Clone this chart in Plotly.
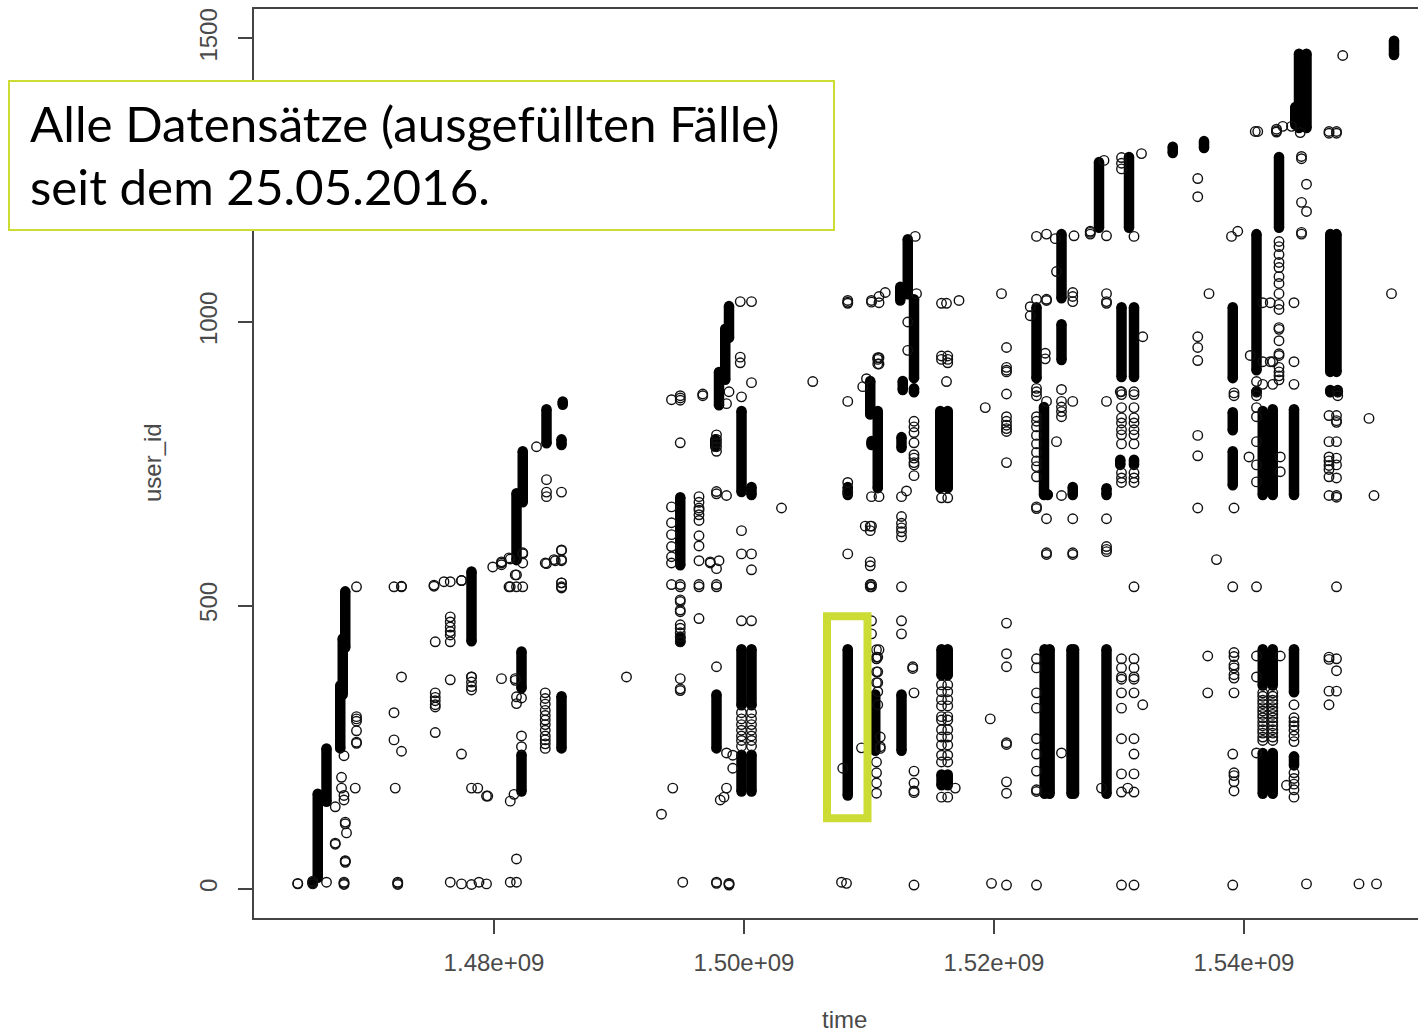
import plotly.graph_objects as go

# ---- data: time in millions of seconds, user_id ----
RING_TIMES = [
 1464.3, 1465.5, 1466.6, 1468.0, 1472.3, 1476.5, 1477.4, 1478.2, 1478.8, 1479.4, 1481.3, 1481.8,
 1469.0, 1472.0, 1472.6, 1475.2, 1476.0, 1477.4, 1476.5, 1475.3, 1478.2, 1480.6, 1481.7, 1472.1,
 1467.8, 1468.9, 1478.7, 1479.5, 1481.6, 1467.3, 1468.1, 1468.2, 1482.3, 1484.1, 1484.9, 1485.4,
 1482.2, 1490.6, 1483.4, 1484.2, 1484.8, 1481.2, 1479.9,
 1494.9, 1494.2, 1496.4, 1497.8, 1497.3, 1498.0, 1496.7, 1498.6, 1499.7, 1500.6, 1499.8, 1498.8,
 1503.0, 1505.5, 1493.4, 1494.3, 1495.1, 1499.1, 1498.4, 1498.1,
 1508.3, 1510.2, 1510.8, 1511.3, 1513.8, 1513.7, 1513.1, 1515.8, 1516.2, 1517.2, 1520.6, 1510.7,
 1516.3, 1521.0, 1519.3, 1509.8, 1509.5, 1510.1, 1512.6, 1513.0, 1513.6, 1509.7, 1513.5, 1509.4,
 1507.9, 1507.8, 1508.2, 1510.6, 1510.9, 1516.9, 1519.7, 1519.8,
 1547.9, 1543.8, 1543.1, 1542.6, 1541.1, 1540.9, 1544.5, 1546.8, 1547.4, 1544.6, 1545.0, 1536.3,
 1531.8, 1530.2, 1531.2, 1528.8, 1527.7, 1529.0, 1523.4, 1524.2, 1524.9, 1526.4, 1525.0, 1526.3,
 1537.2, 1551.8, 1522.9, 1542.8, 1542.1, 1541.5, 1544.0, 1539.0, 1539.5, 1531.9, 1540.5, 1542.3,
 1541.0, 1547.5, 1524.1, 1525.4, 1530.7, 1528.6, 1530.1, 1537.8, 1539.2, 1539.1, 1540.4, 1542.9,
 1550.0, 1550.4, 1537.1, 1543.4, 1549.2, 1550.6, 1521.0,
]
RING_USERS = [
 [9, 10], [9, 12, 14], [12], [12, 10, 8, 157, 165, 235], [10, 8, 12], [12, 480, 471, 462, 454, 448, 436, 369], [9, 544, 238], [8, 374, 365, 357, 351, 178], [12], [9, 164], [12, 155, 582, 533], [12, 53, 339, 327, 533, 554],
 [533, 304, 300, 296, 279, 259, 257], [533, 311, 263], [534, 533, 374, 243], [536, 534], [542], [544], [542], [436, 346, 338, 332, 325, 321, 276], [374], [575, 572, 577, 371], [371, 368, 554], [178],
 [197, 178], [178], [178], [164], [167], [145, 81, 79], [118, 115, 49, 47, 50], [99], [575, 591, 533, 593], [575, 346, 336, 326, 315, 306, 298, 290, 280, 270, 263, 256, 248], [579], [579, 597, 533, 540, 598, 581, 540, 531, 700],
 [337, 270, 251], [374], [780], [722, 700, 692, 574], [581], [584, 533], [568],
 [787, 870, 866, 862, 537, 533, 510, 507, 492, 489, 466, 460, 452, 445, 436, 371, 353, 350], [674, 646, 625, 604, 586, 575, 537, 863], [692, 682, 672, 668, 660, 650, 623, 605, 579, 537, 533, 477], [537, 533, 565, 701, 697, 801, 793, 787, 780, 772, 12, 10, 392], [577, 575], [579], [873, 870], [694, 856, 240, 178], [1036, 938, 928], [1036, 893, 591, 563, 473, 311, 300, 290, 280, 270, 262, 252], [868, 632, 591, 473, 311, 300, 290, 280, 270, 262, 252], [877, 9, 7, 10],
 [672], [895], [132], [178], [12], [213, 236], [162], [157],
 [1038, 1035, 1033, 860, 591, 717, 700], [1038, 1035, 692, 640, 537, 533, 473, 450], [1045, 1034, 937, 926, 692, 422], [1052], [1050], [1151], [1000, 950], [1033, 940, 934, 690, 360, 348, 334, 323, 304, 298, 281, 268, 254, 236, 224, 162], [1033, 895], [1038], [1050], [937, 934, 926, 409, 383, 364, 348, 325],
 [934, 940, 928, 690, 360, 348, 334, 323, 304, 298, 281, 268, 254, 236, 224, 162], [955, 920, 915, 912, 873, 833, 825, 818, 812, 807, 752, 469, 415, 392, 258, 255, 189, 169], [849], [900], [886], [640, 632, 577, 570, 537, 533], [692, 657, 645, 637, 630, 621, 533, 473, 450], [702], [825, 815, 805, 787, 766, 760, 752, 748, 729, 346, 208, 187, 173, 170, 7], [640], [392, 389], [249],
 [213], [12], [10], [422, 409, 406, 383, 364, 224, 205, 187, 169], [268, 251, 248], [178], [300], [10],
 [1470], [1345], [1345], [1340, 1337, 1335], [1336], [1336], [1334], [1336, 1333, 409, 405, 349, 325, 835, 789, 762, 755, 747, 740, 727, 694], [1336, 1333, 533, 406, 385, 349, 835, 826, 823, 789, 760, 748, 725, 694, 691], [1292, 1288, 1211, 1158, 1155], [1243, 1195, 9], [1253, 1221, 974, 955, 932, 800, 764, 672],
 [1297], [1290, 1280, 1270, 877, 872, 849, 831, 822, 810, 801, 785, 734, 725, 717, 406, 390, 374, 370, 346, 319, 265, 203, 171, 7], [1151, 533, 877, 872, 849, 831, 822, 810, 801, 785, 734, 725, 717, 406, 390, 374, 370, 346, 265, 238, 203, 171, 7], [1285], [1160, 1158, 1155], [1152, 1050, 1036, 1033, 860, 653, 604, 599, 595], [1151, 1040, 877, 870, 883, 833, 825, 815, 800, 785, 770, 755, 745, 727, 674, 671, 406, 390, 346, 319, 265, 238, 208, 175, 172, 7], [1155, 1040, 1038, 860, 653, 593, 590], [1147], [1152], [1089, 789], [1052, 1045, 1036, 860, 653, 593, 590],
 [1050], [1050], [1027, 1011], [1142, 1133, 1119, 1105, 1096, 1080, 1068, 1050, 1031, 1022, 990, 987, 967, 944, 941, 920, 912, 905, 898], [1034, 930], [1034, 930, 890, 346, 340, 333, 327, 320, 314, 308, 302, 295, 288, 281, 275, 268, 262], [1034, 930, 890, 325, 302, 295, 288, 280, 270, 260, 205, 195, 185, 175, 162], [1151], [1160], [974, 325], [941], [930, 890, 346, 340, 333, 327, 320, 314, 308, 302, 295, 288, 281, 275, 268, 262],
 [895, 877, 870, 849, 833, 789, 748, 718, 533, 411, 374, 240], [877, 870], [945, 935], [881, 860, 850, 842, 833, 694, 240], [178], [178], [877], [581], [875, 870, 672, 417, 410, 395, 390, 378, 372, 346, 205, 200, 189, 173], [533, 7, 238], [762], [762, 736, 411],
 [830], [694], [411, 346], [183], [9], [9], [7],
]

# dense stretches where the circles merge into solid black
# (the low/high values are the outer edges seen in the picture)
RUN_TIMES = [
 1465.9, 1466.6, 1467.7, 1467.9, 1468.1, 1478.2, 1481.8, 1482.3, 1484.2, 1485.4, 1482.2, 1482.2, 1485.4, 1485.5, 1465.5,
 1494.9, 1498.8, 1498.5, 1498.0, 1499.8, 1500.6, 1497.8, 1499.8, 1500.6, 1499.8, 1500.6, 1497.7, 1494.9,
 1513.1, 1512.5, 1513.6, 1510.1, 1510.7, 1510.2, 1508.3, 1512.7, 1512.6, 1515.7, 1516.3, 1508.3, 1510.5, 1512.6,
 1515.8, 1516.3, 1515.8, 1516.3, 1513.6,
 1552.0, 1544.4, 1545.0, 1544.1, 1542.8, 1536.8, 1534.3, 1530.8, 1528.4, 1525.4, 1523.4, 1525.4, 1530.2, 1531.2,
 1539.1, 1539.1, 1541.0, 1546.9, 1547.4, 1524.0, 1524.3, 1526.3, 1529.0, 1530.1, 1531.2, 1541.5, 1542.3, 1544.0,
 1546.9, 1547.5, 1541.0,
 1524.05, 1524.45, 1526.2, 1526.4, 1529.0, 1541.5, 1542.3, 1541.5, 1542.3, 1544.0, 1544.0, 1539.1,
]
RUN_LOW = [
 12, 146, 240, 335, 418, 429, 572, 674, 778, 775, 346, 164, 240, 852, 4,
 563, 964, 890, 845, 692, 687, 240, 164, 164, 316, 316, 772, 436,
 1041, 1030, 893, 829, 699, 775, 687, 872, 236, 699, 699, 157, 236, 770,
 369, 369, 175, 175, 875,
 1463, 1334, 1334, 1340, 1158, 1299, 1290, 1158, 1158, 1034, 893, 925, 895, 895,
 801, 704, 907, 904, 904, 687, 687, 687, 687, 740, 740, 687, 687, 687,
 872, 872, 870,
 160, 160, 160, 160, 160, 351, 351, 160, 160, 339, 210, 893,
]
RUN_HIGH = [
 176, 256, 367, 450, 533, 568, 706, 780, 854, 801, 427, 245, 348, 862, 18,
 699, 1036, 996, 920, 851, 717, 351, 245, 245, 431, 431, 801, 444,
 1154, 1070, 1048, 904, 851, 798, 717, 904, 351, 851, 851, 431, 351, 805,
 431, 431, 210, 210, 884,
 1504, 1481, 1481, 1387, 1299, 1327, 1317, 1299, 1290, 1163, 1034, 1004, 1034, 1034,
 849, 780, 1163, 1163, 1163, 858, 704, 717, 715, 765, 765, 851, 854, 854,
 884, 884, 884,
 431, 431, 431, 431, 431, 431, 431, 248, 248, 431, 242, 1034,
]

X_TICK_VALUES = [1.48e9, 1.50e9, 1.52e9, 1.54e9]
X_TICK_LABELS = ["1.48e+09", "1.50e+09", "1.52e+09", "1.54e+09"]
Y_TICK_VALUES = [0, 500, 1000, 1500]
Y_TICK_LABELS = ["0", "500", "1000", "1500"]
NOTE_LINES = ["Alle Datensätze (ausgefüllten Fälle)", "seit dem 25.05.2016."]
HIGHLIGHT_TIME = [1506.64e6, 1509.88e6]
HIGHLIGHT_USER = [125, 481]

# ---- layout constants (pixels) ----
W, H = 1418, 1034
L, T, R_EDGE, B_EDGE = 254, 9, 1418, 918
CAP = 8  # marker radius in user_id units: run ends are drawn inside the outer edges
GREEN = "#cddc35"
AXIS = "#444444"
TEXT = "#4a4a4a"
AXFONT = "Liberation Sans, Arial, sans-serif"


def px(x):
    return (x - L) / (R_EDGE - L)


def py(y):
    return (B_EDGE - y) / (B_EDGE - T)


ring_x, ring_y = [], []
for t, users in zip(RING_TIMES, RING_USERS):
    for u in users:
        ring_x.append(t * 1e6)
        ring_y.append(u)

run_x, run_y = [], []
for t, lo, hi in zip(RUN_TIMES, RUN_LOW, RUN_HIGH):
    run_x += [t * 1e6, t * 1e6, None]
    run_y += [lo + CAP, hi - CAP, None]

fig = go.Figure()
fig.add_trace(go.Scatter(
    x=run_x, y=run_y, mode="lines+markers",
    line=dict(color="black", width=10.5),
    marker=dict(color="black", size=10.5, line=dict(width=0)),
    hoverinfo="skip", showlegend=False))
fig.add_trace(go.Scatter(
    x=ring_x, y=ring_y, mode="markers",
    marker=dict(symbol="circle-open", size=9.5, color="#111111", line=dict(width=1.4, color="#111111")),
    showlegend=False))

fig.update_layout(
    width=W, height=H,
    margin=dict(l=L, r=W - R_EDGE, t=T, b=H - B_EDGE, pad=0),
    plot_bgcolor="white", paper_bgcolor="white",
    font=dict(family=AXFONT, size=24, color=TEXT),
    showlegend=False,
    xaxis=dict(
        range=[1460.8e6, 1553.92e6], autorange=False,
        tickmode="array", tickvals=X_TICK_VALUES, ticktext=X_TICK_LABELS,
        ticks="outside", ticklen=14, tickwidth=1.5, tickcolor=AXIS,
        showgrid=False, zeroline=False, showline=True, linecolor=AXIS, linewidth=2,
        mirror=True, ticklabelstandoff=8, tickfont=dict(size=24, color=TEXT),
    ),
    yaxis=dict(
        range=[-51.1, 1552], autorange=False,
        tickmode="array", tickvals=Y_TICK_VALUES, ticktext=Y_TICK_LABELS, tickangle=-90,
        ticks="outside", ticklen=14, tickwidth=1.5, tickcolor=AXIS,
        showgrid=False, zeroline=False, showline=True, linecolor=AXIS, linewidth=2,
        mirror=False, ticklabelstandoff=11, tickfont=dict(size=24, color=TEXT),
    ),
    shapes=[
        dict(type="rect", xref="x", yref="y", layer="above",
             x0=HIGHLIGHT_TIME[0], x1=HIGHLIGHT_TIME[1], y0=HIGHLIGHT_USER[0], y1=HIGHLIGHT_USER[1],
             line=dict(color=GREEN, width=8), fillcolor="rgba(0,0,0,0)"),
        dict(type="rect", xref="paper", yref="paper", layer="above",
             x0=px(9), x1=px(834), y0=py(230), y1=py(81),
             line=dict(color=GREEN, width=2), fillcolor="white"),
    ],
    annotations=[
        dict(xref="paper", yref="paper", x=px(28), y=py(123), text=NOTE_LINES[0], showarrow=False,
             xanchor="left", yanchor="middle", font=dict(family="Lato, sans-serif", size=49.3, color="black")),
        dict(xref="paper", yref="paper", x=px(28), y=py(186), text=NOTE_LINES[1], showarrow=False,
             xanchor="left", yanchor="middle", font=dict(family="Lato, sans-serif", size=49.3, color="black")),
        dict(xref="paper", yref="paper", x=px(844), y=py(1019), text="time", showarrow=False,
             xanchor="center", yanchor="middle", font=dict(size=24, color=TEXT)),
        dict(xref="paper", yref="paper", x=px(152), y=py(463), text="user_id", showarrow=False, textangle=-90,
             xanchor="center", yanchor="middle", font=dict(size=24, color=TEXT)),
    ],
)

fig.write_html("out.html", config={"displayModeBar": False},
               post_script="document.body.style.margin='0';document.body.style.overflow='hidden';")
